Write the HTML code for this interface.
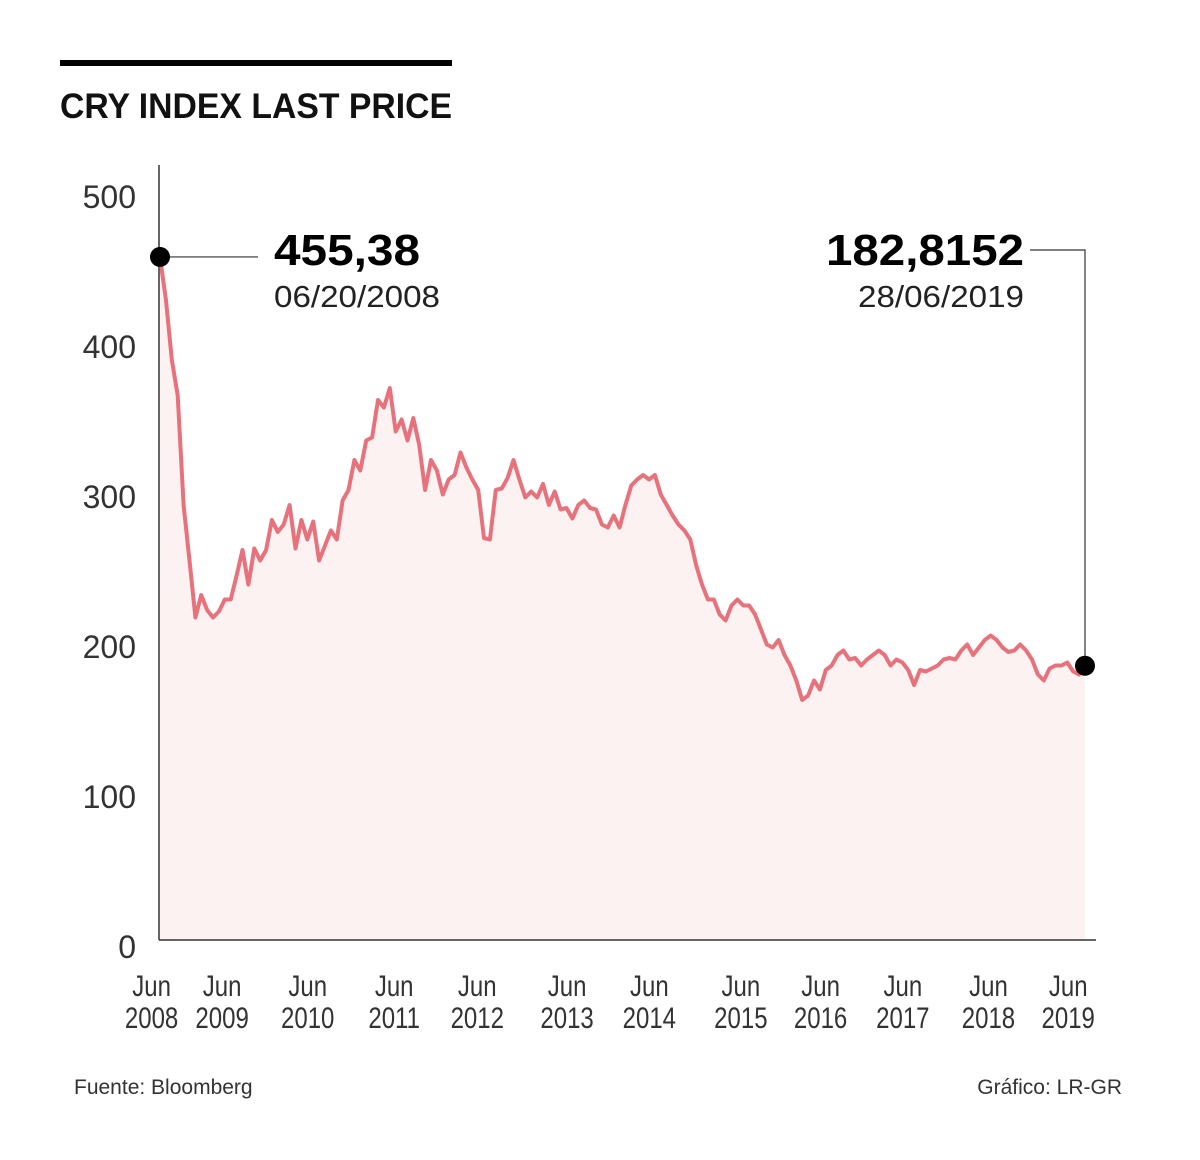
<!DOCTYPE html>
<html><head><meta charset="utf-8"><style>
body{margin:0;background:#fff;}
svg{display:block;font-family:"Liberation Sans",sans-serif;}
</style></head><body>
<svg id="chart" width="1200" height="1160" viewBox="0 0 1200 1160">
<rect x="60" y="60" width="392" height="6" fill="#000"/>
<text x="60" y="118" font-size="35" font-weight="bold" fill="#111" textLength="392" lengthAdjust="spacingAndGlyphs">CRY INDEX LAST PRICE</text>
<g id="plot"></g>
<text x="74" y="1094" font-size="21" fill="#333">Fuente: Bloomberg</text>
<text x="1122" y="1094" font-size="21" fill="#333" text-anchor="end">Gráfico: LR-GR</text>
</svg>
<script>
const values=[455,427,387,363,290,253,215,230,220,215,219,227,
227,243,260,237,261,253,260,280,272,277,290,261,280,267,279,253,263,273,267,293,300,320,313,333,335,360,355,368,339,347,333,348,330,300,320,313,297,307,310,325,315,307,300,268,267,300,301,308,320,307,295,299,295,304,290,299,287,288,281,290,293,288,287,277,275,283,275,290,303,307,310,307,310,297,290,283,277,273,267,250,237,227,227,217,213,223,227,223,223,217,207,197,195,200,190,183,173,160,163,173,167,180,183,190,193,187,188,183,187,190,193,190,183,187,185,180,170,180,179,181,183,187,188,187,193,197,190,195,200,203,200,195,192,193,197,193,187,177,173,181,183,183,185,179,177,182.8];
const startYear=2008.47, endYear=2019.49;
const yTicks=[0,100,200,300,400,500];
const xTickYears=[2008,2009,2010,2011,2012,2013,2014,2015,2016,2017,2018,2019];
const xTickDates=[2008.37,2009.21,2010.23,2011.26,2012.25,2013.32,2014.30,2015.39,2016.34,2017.32,2018.34,2019.29];
const startLabel="455,38", startDate="06/20/2008", endLabel="182,8152", endDate="28/06/2019";

const X0=160,X1=1085,Y0=940;
function xs(yr){return X0+(yr-startYear)/(endYear-startYear)*(X1-X0);}
function ys(v){return Y0-v*1.5;}
const NS="http://www.w3.org/2000/svg";
const plot=document.getElementById('plot');
function mk(tag,attrs,txt){const e=document.createElementNS(NS,tag);for(const k in attrs)e.setAttribute(k,attrs[k]);if(txt!==undefined)e.textContent=txt;plot.appendChild(e);return e;}
const n=values.length;
const pts=values.map((v,i)=>[xs(startYear+i/(n-1)*(endYear-startYear)),ys(v)]);
const lineD=pts.map((p,i)=>(i?'L':'M')+p[0].toFixed(1)+' '+p[1].toFixed(1)).join(' ');
let e;
e=mk('path',{d:lineD+` L${pts[n-1][0]} ${Y0} L${pts[0][0]} ${Y0} Z`,fill:'#fdf2f2'});


e=mk('line',{x1:159,y1:165,x2:159,y2:940,stroke:'#333','stroke-width':1.5});


e=mk('line',{x1:159,y1:940,x2:1096,y2:940,stroke:'#333','stroke-width':1.5});


yTicks.forEach(t=>{
  e=mk('text',{x:136,y:ys(t)+18,'font-size':32,fill:'#333','text-anchor':'end'},String(t));
  
  
});
xTickYears.forEach((yr,i)=>{
  const x=xs(xTickDates[i]);
  e=mk('text',{x:x,y:996,'font-size':30,fill:'#333','text-anchor':'middle',transform:`translate(${x} 0) scale(0.8 1) translate(${-x} 0)`},'Jun');
  
  
  e=mk('text',{x:x,y:1028,'font-size':30,fill:'#333','text-anchor':'middle',transform:`translate(${x} 0) scale(0.8 1) translate(${-x} 0)`},String(yr));
  
  
});
e=mk('path',{d:lineD,fill:'none',stroke:'#e8727c','stroke-width':4,'stroke-linejoin':'round'});


const sy=ys(455.38), ey=ys(182.8152);
e=mk('line',{x1:160,y1:sy,x2:258,y2:sy,stroke:'#333','stroke-width':1.2});


e=mk('circle',{cx:160,cy:sy,r:10,fill:'#000'});


e=mk('text',{x:274,y:265,'font-size':44,'font-weight':'bold',fill:'#000',textLength:146,lengthAdjust:'spacingAndGlyphs'},startLabel);


e=mk('text',{x:274,y:307,'font-size':31,fill:'#222',textLength:166,lengthAdjust:'spacingAndGlyphs'},startDate);


e=mk('path',{d:`M1030 250 L1085 250 L1085 ${ey}`,fill:'none',stroke:'#333','stroke-width':1.2});


e=mk('circle',{cx:1085,cy:ey,r:10,fill:'#000'});


e=mk('text',{x:826,y:265,'font-size':44,'font-weight':'bold',fill:'#000',textLength:198,lengthAdjust:'spacingAndGlyphs'},endLabel);


e=mk('text',{x:858,y:307,'font-size':31,fill:'#222',textLength:166,lengthAdjust:'spacingAndGlyphs'},endDate);


</script>
</body></html>
